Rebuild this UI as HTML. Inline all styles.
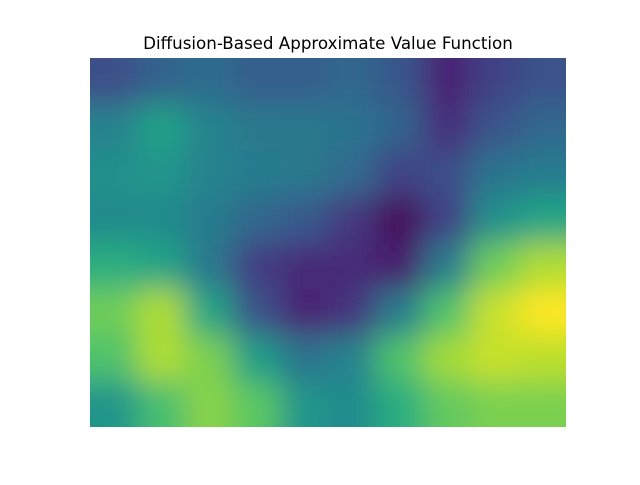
<!DOCTYPE html>
<html><head><meta charset="utf-8"><style>
body{margin:0;background:#fff;width:640px;height:480px;overflow:hidden}
</style></head><body>
<svg width="640" height="480" xmlns="http://www.w3.org/2000/svg">
<defs>
<clipPath id="plotclip"><rect x="90" y="58" width="476" height="369"/></clipPath>
<filter id="blur" x="-20%" y="-20%" width="140%" height="140%"><feGaussianBlur stdDeviation="15"/></filter>
</defs>
<text x="328" y="49" text-anchor="middle" font-family="DejaVu Sans, Liberation Sans, sans-serif" font-size="16.7" fill="#000">Diffusion-Based Approximate Value Function</text>
<g clip-path="url(#plotclip)"><g id="cells" filter="url(#blur)"></g></g>
</svg>
<script>
const rowsData = [
 [0.24,0.32,0.35,0.30,0.30,0.33,0.27,0.10,0.20,0.25],
 [0.45,0.57,0.45,0.40,0.40,0.38,0.32,0.13,0.26,0.33],
 [0.50,0.52,0.45,0.42,0.40,0.34,0.20,0.24,0.38,0.42],
 [0.48,0.48,0.42,0.33,0.28,0.16,0.02,0.20,0.50,0.58],
 [0.62,0.58,0.40,0.18,0.12,0.12,0.08,0.42,0.78,0.88],
 [0.78,0.88,0.58,0.25,0.10,0.15,0.42,0.72,0.92,1.00],
 [0.72,0.88,0.80,0.55,0.38,0.45,0.72,0.86,0.92,0.90],
 [0.52,0.70,0.82,0.74,0.52,0.48,0.62,0.76,0.80,0.80]
];
const viridis=[[68,1,84],[72,40,120],[62,74,137],[49,104,142],[38,130,142],[31,158,137],[53,183,121],[109,205,89],[180,222,44],[253,231,37]];
function cmap(v){v=Math.max(0,Math.min(1,v));const t=v*(viridis.length-1);const i=Math.min(viridis.length-2,Math.floor(t));const f=t-i;const a=viridis[i],b=viridis[i+1];return `rgb(${a.map((c,k)=>Math.round(c+(b[k]-c)*f)).join(',')})`;}
const X0=90,Y0=58,W=476,H=369,pad=50;
const nr=rowsData.length,nc=rowsData[0].length;
const cw=W/nc,ch=H/nr;
const g=document.getElementById('cells');
const ns='http://www.w3.org/2000/svg';
rowsData.forEach((row,r)=>row.forEach((v,c)=>{
  let x=X0+c*cw,y=Y0+r*ch,w=cw,h=ch;
  if(c===0){x-=pad;w+=pad;} if(c===nc-1){w+=pad;}
  if(r===0){y-=pad;h+=pad;} if(r===nr-1){h+=pad;}
  const el=document.createElementNS(ns,'rect');
  el.setAttribute('x',x);el.setAttribute('y',y);el.setAttribute('width',w+0.5);el.setAttribute('height',h+0.5);
  el.setAttribute('fill',cmap(v));
  
  
  g.appendChild(el);
}));
</script>
</body></html>
